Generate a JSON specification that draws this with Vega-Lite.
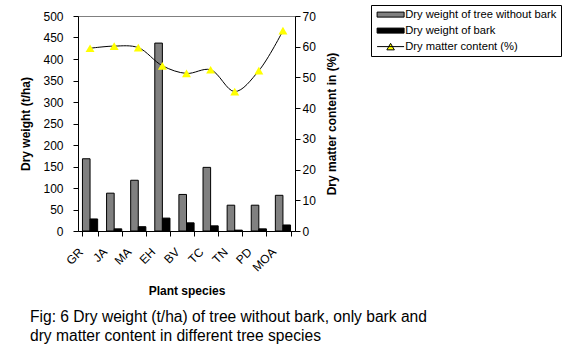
{
  "$schema": "https://vega.github.io/schema/vega-lite/v6.json",
  "width": 217,
  "height": 215,
  "autosize": "none",
  "padding": {"left": 78, "top": 16, "right": 278, "bottom": 131},
  "background": "white",
  "config": {
    "font": "Liberation Sans",
    "view": {"stroke": "#808080", "strokeWidth": 1},
    "axis": {
      "domainColor": "black",
      "tickColor": "black",
      "labelColor": "black",
      "titleColor": "black",
      "labelFontSize": 12,
      "titleFontSize": 12,
      "titleFontWeight": "bold",
      "grid": false,
      "tickSize": 5
    }
  },
  "title": {
    "text": ["Fig: 6 Dry weight (t/ha) of tree without bark, only bark and", "dry matter content in different tree species"],
    "orient": "bottom",
    "anchor": "start",
    "fontSize": 15.6,
    "fontWeight": "normal",
    "color": "black",
    "dx": 10,
    "offset": 14,
    "lineHeight": 19
  },
  "data": {
    "values": [
      {"species": "GR", "series": "Dry weight of tree without bark", "value": 168},
      {"species": "GR", "series": "Dry weight of bark", "value": 28},
      {"species": "GR", "series": "Dry matter content (%)", "value": 59.5},
      {"species": "JA", "series": "Dry weight of tree without bark", "value": 88},
      {"species": "JA", "series": "Dry weight of bark", "value": 5},
      {"species": "JA", "series": "Dry matter content (%)", "value": 60.2},
      {"species": "MA", "series": "Dry weight of tree without bark", "value": 118},
      {"species": "MA", "series": "Dry weight of bark", "value": 10},
      {"species": "MA", "series": "Dry matter content (%)", "value": 59.7},
      {"species": "EH", "series": "Dry weight of tree without bark", "value": 437},
      {"species": "EH", "series": "Dry weight of bark", "value": 30},
      {"species": "EH", "series": "Dry matter content (%)", "value": 53.8},
      {"species": "BV", "series": "Dry weight of tree without bark", "value": 85},
      {"species": "BV", "series": "Dry weight of bark", "value": 19},
      {"species": "BV", "series": "Dry matter content (%)", "value": 51.3},
      {"species": "TC", "series": "Dry weight of tree without bark", "value": 148},
      {"species": "TC", "series": "Dry weight of bark", "value": 12},
      {"species": "TC", "series": "Dry matter content (%)", "value": 52.5},
      {"species": "TN", "series": "Dry weight of tree without bark", "value": 60},
      {"species": "TN", "series": "Dry weight of bark", "value": 2},
      {"species": "TN", "series": "Dry matter content (%)", "value": 45.4},
      {"species": "PD", "series": "Dry weight of tree without bark", "value": 60},
      {"species": "PD", "series": "Dry weight of bark", "value": 5},
      {"species": "PD", "series": "Dry matter content (%)", "value": 52.2},
      {"species": "MOA", "series": "Dry weight of tree without bark", "value": 83},
      {"species": "MOA", "series": "Dry weight of bark", "value": 14},
      {"species": "MOA", "series": "Dry matter content (%)", "value": 65.2}
    ]
  },
  "encoding": {
    "x": {
      "field": "species",
      "type": "nominal",
      "sort": null,
      "scale": {"paddingInner": 0.37, "paddingOuter": 0.185},
      "axis": {
        "title": "Plant species",
        "labelAngle": -45,
        "tickBand": "extent",
        "labelPadding": 10,
        "labelOffset": -13,
        "titlePadding": 12
      }
    }
  },
  "layer": [
    {
      "transform": [{"filter": "datum.series != 'Dry matter content (%)'"}],
      "mark": {"type": "bar", "stroke": "black", "strokeWidth": 1},
      "encoding": {
        "xOffset": {
          "field": "series",
          "type": "nominal",
          "sort": ["Dry weight of tree without bark", "Dry weight of bark"],
          "scale": {"paddingInner": 0, "paddingOuter": 0}
        },
        "y": {
          "field": "value",
          "type": "quantitative",
          "scale": {"domain": [0, 500], "nice": false},
          "axis": {
            "title": "Dry weight (t/ha)",
            "values": [0, 50, 100, 150, 200, 250, 300, 350, 400, 450, 500],
            "labelPadding": 10,
            "titlePadding": 10
          }
        },
        "fill": {
          "field": "series",
          "type": "nominal",
          "scale": {
            "domain": ["Dry weight of tree without bark", "Dry weight of bark", "Dry matter content (%)"],
            "range": ["#808080", "#000000", "#FFFF00"]
          },
          "legend": {
            "title": null,
            "orient": "none",
            "legendX": 293,
            "legendY": -11,
            "strokeColor": "black",
            "fillColor": "white",
            "padding": 4,
            "labelFontSize": 11.2,
            "labelColor": "black",
            "labelLimit": 400,
            "symbolSize": 100,
            "symbolOffset": 10,
            "labelOffset": 9,
            "rowPadding": 4,
            "symbolStrokeColor": "black",
            "symbolStrokeWidth": 1,
            "symbolType": {"expr": "datum.value == 'Dry matter content (%)' ? 'M-2.7,0H2.7M-0.75,0.65L0,-0.65L0.75,0.65Z' : 'M-2.7,-0.5H2.7V0.5H-2.7Z'"}
          }
        }
      }
    },
    {
      "transform": [{"filter": "datum.series == 'Dry matter content (%)'"}],
      "encoding": {
        "y": {
          "field": "value",
          "type": "quantitative",
          "scale": {"domain": [0, 70], "nice": false},
          "axis": {
            "orient": "right",
            "title": "Dry matter content in (%)",
            "titleAngle": -90,
            "values": [0, 10, 20, 30, 40, 50, 60, 70],
            "labelPadding": 2,
            "titlePadding": 23
          }
        }
      },
      "layer": [
        {"mark": {"type": "line", "color": "black", "strokeWidth": 1, "interpolate": "catmull-rom"}},
        {"mark": {"type": "point", "shape": "triangle-up", "filled": true, "fill": "#FFFF00", "opacity": 1, "size": 80, "strokeWidth": 0}}
      ]
    }
  ],
  "resolve": {"scale": {"y": "independent"}}
}
